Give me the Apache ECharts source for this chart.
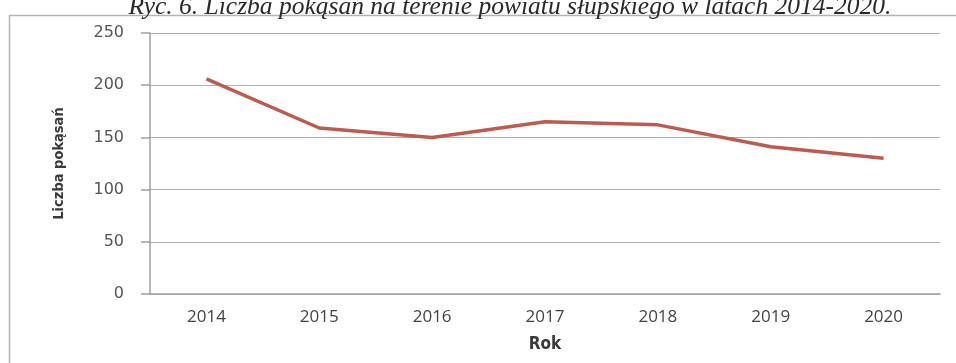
<!DOCTYPE html>
<html>
<head>
<meta charset="utf-8">
<script src="https://cdn.jsdelivr.net/npm/echarts@6/dist/echarts.min.js"></script>
<style>
  html, body { margin: 0; padding: 0; background: #fff; }
  #chart { width: 956px; height: 363px; }
</style>
</head>
<body>
<div id="chart"></div>
<script>
// Liczba pokąsań w powiecie słupskim, 2014-2020
const years = ['2014', '2015', '2016', '2017', '2018', '2019', '2020'];
const bites = [206, 159, 150, 165, 162, 141, 130];
const yTicks = [0, 50, 100, 150, 200, 250];

const chart = echarts.init(document.getElementById('chart'));

chart.setOption({
  backgroundColor: '#ffffff',
  animation: false,
  title: {
    text: 'Ryc. 6. Liczba pokąsań na terenie powiatu słupskiego w latach 2014-2020.',
    left: 505,
    textAlign: 'center',
    top: -11,
    textStyle: {
      fontFamily: 'Liberation Serif, serif',
      fontStyle: 'italic',
      fontWeight: 'normal',
      fontSize: 25.5,
      color: '#2a2a2a'
    }
  },
  graphic: [{
    type: 'rect',
    shape: { x: 9.5, y: 15.5, width: 1000, height: 400 },
    style: { fill: 'none', stroke: '#b4b4b4', lineWidth: 1.5 },
    silent: true
  }],
  grid: { left: 150, right: 16, top: 33, bottom: 69 },
  xAxis: {
    type: 'category',
    data: years,
    boundaryGap: true,
    name: 'Rok',
    nameLocation: 'middle',
    nameGap: 42,
    nameTextStyle: {
      fontFamily: 'DejaVu Sans Condensed, Liberation Sans, sans-serif',
      fontWeight: 'bold',
      fontSize: 17,
      color: '#3a3a3a'
    },
    axisLine: { lineStyle: { color: '#a0a0a0', width: 1.5 } },
    axisTick: { show: false },
    axisLabel: {
      margin: 15,
      fontFamily: 'Open Sans, sans-serif',
      fontSize: 17,
      color: '#444444'
    }
  },
  yAxis: {
    type: 'value',
    min: yTicks[0],
    max: yTicks[yTicks.length - 1],
    interval: yTicks[1] - yTicks[0],
    name: 'Liczba pokąsań',
    nameLocation: 'middle',
    nameGap: 83,
    nameTextStyle: {
      fontFamily: 'DejaVu Sans Condensed, Liberation Sans, sans-serif',
      fontWeight: 'bold',
      fontSize: 14.5,
      color: '#3a3a3a'
    },
    axisLine: { show: true, lineStyle: { color: '#a0a0a0', width: 1.5 } },
    axisTick: { show: true, length: 9, lineStyle: { color: '#a0a0a0', width: 1.5 } },
    axisLabel: {
      margin: 26,
      fontFamily: 'DejaVu Sans, sans-serif',
      fontSize: 16,
      color: '#555555'
    },
    splitLine: { lineStyle: { color: '#b0b0b0', width: 1.2 } }
  },
  series: [{
    type: 'line',
    data: bites,
    symbol: 'none',
    lineStyle: { color: '#bf5a4f', width: 3.5 }
  }]
});
</script>
</body>
</html>
